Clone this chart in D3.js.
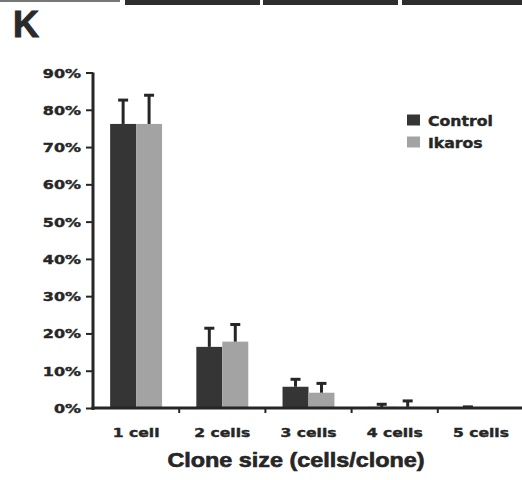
<!DOCTYPE html>
<html><head><meta charset="utf-8">
<script src="https://cdn.jsdelivr.net/npm/d3@7"></script>
<style>body{margin:0;background:#fff}svg{display:block}</style>
</head><body>
<svg id="c" width="522" height="480"></svg>
<script>
const categories = ["1 cell", "2 cells", "3 cells", "4 cells", "5 cells"];
const seriesNames = ["Control", "Ikaros"];
const controlValues = [0.762, 0.164, 0.057, 0.003, 0.001];
const controlErrors = [0.064, 0.050, 0.020, 0.007, 0.002];
const ikarosValues = [0.762, 0.178, 0.041, 0.003, 0.000];
const ikarosErrors = [0.077, 0.046, 0.025, 0.016, 0.000];
const yTicks = [0, 0.1, 0.2, 0.3, 0.4, 0.5, 0.6, 0.7, 0.8, 0.9];
const yTickLabels = ["0%", "10%", "20%", "30%", "40%", "50%", "60%", "70%", "80%", "90%"];
const xTitle = "Clone size (cells/clone)";
const panelLabel = "K";

const colors = {Control: "#353535", Ikaros: "#a3a3a3"};
const ink = "#262626";
const svg = d3.select("#c");

// top decoration (cropped neighbouring panel edges)
svg.append("rect").attr("x", 0).attr("y", 0).attr("width", 120).attr("height", 2).attr("fill", "#777");
[[125, 260], [263, 398], [402, 522]].forEach(([a, b]) =>
  svg.append("rect").attr("x", a).attr("y", 0).attr("width", b - a).attr("height", 5).attr("fill", "#2e2e2e"));

svg.append("text").attr("x", 13).attr("y", 37).text(panelLabel)
  .attr("font-family", "Liberation Sans, Arial, sans-serif").attr("font-weight", "bold")
  .attr("font-size", 36).attr("fill", "#2a2a2a").attr("stroke", "#2a2a2a").attr("stroke-width", 1);

const x0 = d3.scaleBand().domain(categories).range([93, 524]).paddingInner(0).paddingOuter(0);
const x1 = d3.scaleBand().domain(seriesNames).range([0, x0.bandwidth()]).paddingInner(0).paddingOuter(0.66);
const y = d3.scaleLinear().domain([0, 0.9]).range([408, 72.5]);

const data = categories.map((c, i) => ({
  cat: c,
  vals: [
    {s: "Control", v: controlValues[i], e: controlErrors[i]},
    {s: "Ikaros", v: ikarosValues[i], e: ikarosErrors[i]}
  ]
}));

const g = svg.append("g");
const groups = g.selectAll("g.cat").data(data).join("g")
  .attr("transform", d => `translate(${x0(d.cat)},0)`);

groups.selectAll("rect").data(d => d.vals).join("rect")
  .attr("x", d => x1(d.s)).attr("width", x1.bandwidth())
  .attr("y", d => y(d.v)).attr("height", d => y(0) - y(d.v))
  .attr("fill", d => colors[d.s]);

// error bars (upper)
groups.selectAll("line.stem").data(d => d.vals.filter(v => v.e > 0)).join("line")
  .attr("class", "stem")
  .attr("x1", d => x1(d.s) + x1.bandwidth() / 2).attr("x2", d => x1(d.s) + x1.bandwidth() / 2)
  .attr("y1", d => y(d.v)).attr("y2", d => y(d.v + d.e))
  .attr("stroke", ink).attr("stroke-width", 3);
groups.selectAll("line.cap").data(d => d.vals.filter(v => v.e > 0)).join("line")
  .attr("class", "cap")
  .attr("x1", d => x1(d.s) + x1.bandwidth() / 2 - 5).attr("x2", d => x1(d.s) + x1.bandwidth() / 2 + 5)
  .attr("y1", d => y(d.v + d.e)).attr("y2", d => y(d.v + d.e))
  .attr("stroke", ink).attr("stroke-width", 3);

// y axis
const yAxis = svg.append("g").attr("transform", "translate(93,0)")
  .call(d3.axisLeft(y).tickValues(yTicks).tickSize(7).tickFormat((d, i) => yTickLabels[i]));
yAxis.select(".domain").attr("d", `M0,${y(0.9)}V${y(0) + 2}`).attr("stroke", ink).attr("stroke-width", 3);
yAxis.selectAll(".tick line").attr("stroke", ink).attr("stroke-width", 2);
yAxis.selectAll(".tick text").each(function() {
  const t = d3.select(this);
  t.attr("x", null).attr("dy", null).attr("text-anchor", "end")
   .attr("transform", "translate(-12,4.5) scale(1.33,1)")
   .attr("font-family", "DejaVu Sans, Verdana, sans-serif").attr("font-weight", "bold")
   .attr("font-size", 12).attr("fill", ink).attr("stroke", ink).attr("stroke-width", 0.4);
});

// x axis
const xAxis = svg.append("g").attr("transform", `translate(0,${y(0)})`);
xAxis.append("line").attr("x1", 91.5).attr("x2", 522).attr("y1", 0).attr("y2", 0)
  .attr("stroke", ink).attr("stroke-width", 3);
xAxis.selectAll("line.tk").data(categories.slice(1)).join("line").attr("class", "tk")
  .attr("x1", d => x0(d)).attr("x2", d => x0(d)).attr("y1", 0).attr("y2", 5)
  .attr("stroke", ink).attr("stroke-width", 2);
xAxis.selectAll("text").data(categories).join("text")
  .attr("transform", d => `translate(${x0(d) + x0.bandwidth() / 2},29) scale(1.3,1)`)
  .attr("text-anchor", "middle").text(d => d)
  .attr("font-family", "DejaVu Sans, Verdana, sans-serif").attr("font-weight", "bold")
  .attr("font-size", 12).attr("fill", ink).attr("stroke", ink).attr("stroke-width", 0.4);

svg.append("text").attr("transform", "translate(296,467) scale(1.2,1)").attr("text-anchor", "middle")
  .text(xTitle).attr("font-family", "Liberation Sans, Arial, sans-serif").attr("font-weight", "bold")
  .attr("font-size", 19.5).attr("fill", ink).attr("stroke", ink).attr("stroke-width", 0.6);

// legend
const leg = svg.append("g");
seriesNames.forEach((s, i) => {
  const yy = 114.5 + i * 22;
  leg.append("rect").attr("x", 407).attr("y", yy).attr("width", 13).attr("height", 11).attr("fill", colors[s]);
  leg.append("text").attr("transform", `translate(428,${yy + 11}) scale(1.12,1)`).text(s)
    .attr("font-family", "DejaVu Sans, Verdana, sans-serif").attr("font-weight", "bold")
    .attr("font-size", 14).attr("fill", ink).attr("stroke", ink).attr("stroke-width", 0.4);
});
</script>
</body></html>
